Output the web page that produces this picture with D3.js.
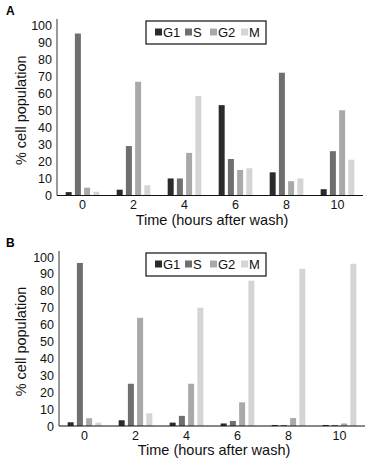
<!DOCTYPE html>
<html>
<head>
<meta charset="utf-8">
<script src="https://cdn.jsdelivr.net/npm/d3@7"></script>
<style>
  body { margin: 0; background: #fff; }
  svg { font-family: "Liberation Sans", Arial, sans-serif; }
</style>
</head>
<body>
<div id="chart"></div>
<script>
const times = ['0', '2', '4', '6', '8', '10']
const phases = ['G1', 'S', 'G2', 'M']
const yTicks = [0, 10, 20, 30, 40, 50, 60, 70, 80, 90, 100]

// panel A
const aG1 = [2, 3.4, 10, 53, 13.6, 3.7]
const aS = [95, 29, 10, 21.4, 72, 26]
const aG2 = [4.6, 66.7, 25, 15, 8.4, 50]
const aM = [2.2, 6, 58.4, 16, 10, 21]

// panel B
const bG1 = [2.2, 3.4, 2, 1.5, 0.6, 0.6]
const bS = [96.5, 25, 6, 3, 0.6, 0.6]
const bG2 = [4.6, 64, 25, 14, 4.7, 1.5]
const bM = [2, 7.5, 70, 86, 93, 96]

const colors = { G1: '#2b2b2b', S: '#6f6f6f', G2: '#a9a9a9', M: '#d5d5d5' }

const width = 377
const height = 471

const svg = d3.select('#chart')
  .append('svg')
  .attr('width', width)
  .attr('height', height)

function drawPanel (label, series, top, zero, left, right) {
  const rows = times.map((t, i) => {
    const row = { time: t }
    phases.forEach(p => { row[p] = series[p][i] })
    return row
  })

  const g = svg.append('g')

  const y = d3.scaleLinear().domain([0, 100]).range([zero, top])
  const x0 = d3.scaleBand().domain(times).range([left, right])
    .paddingInner(0.34).paddingOuter(0.17)
  const x1 = d3.scaleBand().domain(phases).range([0, x0.bandwidth()])
    .paddingInner(0.35)

  // bars
  g.selectAll('.grp')
    .data(rows)
    .join('g')
    .attr('transform', d => `translate(${x0(d.time)},0)`)
    .selectAll('rect')
    .data(d => phases.map(p => ({ key: p, value: d[p] })))
    .join('rect')
    .attr('x', d => x1(d.key))
    .attr('y', d => y(d.value))
    .attr('width', x1.bandwidth())
    .attr('height', d => y(0) - y(d.value))
    .attr('fill', d => colors[d.key])

  // y axis
  const yAxis = g.append('g')
    .attr('transform', `translate(${left},0)`)
    .call(d3.axisLeft(y).tickValues(yTicks).tickSize(0).tickPadding(5))
  yAxis.select('.domain').remove()
  yAxis.selectAll('text').attr('font-size', 12.5).attr('fill', '#111')
  g.append('line')
    .attr('x1', left).attr('x2', left)
    .attr('y1', y(103.5)).attr('y2', y(0))
    .attr('stroke', '#555').attr('stroke-width', 1.2)

  // x axis
  const xAxis = g.append('g')
    .attr('transform', `translate(0,${y(0)})`)
    .call(d3.axisBottom(x0).tickSize(0).tickPadding(5))
  xAxis.select('.domain').remove()
  xAxis.selectAll('text').attr('font-size', 12.5).attr('fill', '#111')
  g.append('line')
    .attr('x1', left).attr('x2', right)
    .attr('y1', y(0)).attr('y2', y(0))
    .attr('stroke', '#111').attr('stroke-width', 1.2)

  // axis titles
  g.append('text')
    .attr('transform', `translate(26,${(y(0) + y(100)) / 2}) rotate(-90)`)
    .attr('text-anchor', 'middle')
    .attr('font-size', 14.5)
    .attr('fill', '#111')
    .text('% cell population')

  g.append('text')
    .attr('x', (left + right) / 2 + 2)
    .attr('y', y(0) + 29)
    .attr('text-anchor', 'middle')
    .attr('font-size', 14.5)
    .attr('fill', '#111')
    .text('Time (hours after wash)')

  // panel letter
  g.append('text')
    .attr('x', 6)
    .attr('y', top - 10)
    .attr('font-size', 12)
    .attr('font-weight', 'bold')
    .text(label)

  // legend
  const lx = 146
  const ly = top - 4
  g.append('rect')
    .attr('x', lx).attr('y', ly)
    .attr('width', 120).attr('height', 23)
    .attr('fill', '#fff').attr('stroke', '#111').attr('stroke-width', 1.2)
  const offsets = [9, 39, 64, 95]
  const items = g.selectAll('.leg')
    .data(phases)
    .join('g')
    .attr('transform', (d, i) => `translate(${lx + offsets[i]},${ly + 11.5})`)
  items.append('rect')
    .attr('x', 0).attr('y', -4)
    .attr('width', 7).attr('height', 7)
    .attr('fill', d => colors[d])
  items.append('text')
    .attr('x', 8)
    .attr('y', 4.5)
    .attr('font-size', 13)
    .attr('fill', '#111')
    .text(d => d)
}

drawPanel('A', { G1: aG1, S: aS, G2: aG2, M: aM }, 25, 195.5, 57, 363)
drawPanel('B', { G1: bG1, S: bS, G2: bG2, M: bM }, 257, 426, 59, 365)
</script>
</body>
</html>
